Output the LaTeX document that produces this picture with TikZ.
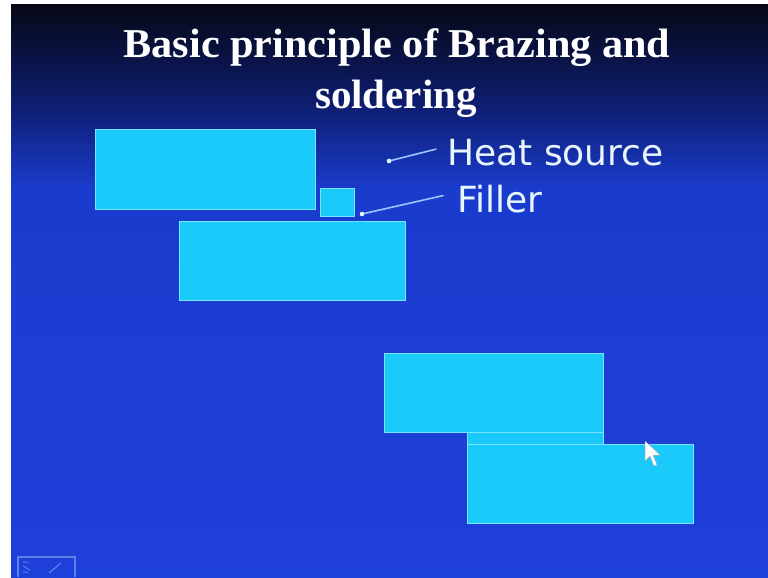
\documentclass[tikz,border=0pt]{standalone}
\usepackage{fontspec}
\setmainfont{Liberation Serif}
\newfontfamily\labfont{DejaVu Sans}
\usetikzlibrary{calc}
\definecolor{bgtop}{RGB}{6,8,22}
\definecolor{bgmid}{RGB}{14,30,115}
\definecolor{bgblue}{RGB}{26,60,205}
\definecolor{bgblue2}{RGB}{30,64,218}
\definecolor{cyanfill}{RGB}{26,202,250}
\definecolor{cyanedge}{RGB}{120,228,255}
\definecolor{labwhite}{RGB}{232,246,255}
\definecolor{ptrcol}{RGB}{150,200,255}
\definecolor{iconcol}{RGB}{90,130,235}
\pgfdeclareverticalshading{slidebg}{100bp}{color(0bp)=(bgblue2); color(25bp)=(bgblue2); color(59bp)=(bgblue); color(66bp)=(bgmid); color(75bp)=(bgtop); color(100bp)=(bgtop)}
\tikzset{
  block/.style={draw=cyanedge, fill=cyanfill, line width=1.4pt, inner sep=0pt, anchor=north west},
  titletext/.style={text=white, font=\bfseries\fontsize{41}{46}\selectfont, anchor=base, inner sep=0pt},
  labtext/.style={text=labwhite, font=\labfont\fontsize{36}{40}\selectfont, anchor=base west, inner sep=0pt},
  ptrline/.style={draw=ptrcol, line width=1.6pt, line cap=round},
  ptrdot/.style={fill=labwhite}
}
\begin{document}
\begin{tikzpicture}[x=1pt,y=-1pt]
\useasboundingbox (0,0) rectangle (768,578);
\fill[white] (0,0) rectangle (768,578);
\shade[shading=slidebg] (11,5) rectangle (768,578);

% title
\node[titletext] (t1) at (397,58) {\scalebox{1.03}[1]{Basic principle of Brazing and}};
\node[titletext] (t2) at (396,108) {soldering};

% upper sketch
\node[block, minimum width=220pt, minimum height=80pt] (r1) at (95,129) {};
\node[block, minimum width=34pt, minimum height=28pt] (f1) at (320,188) {};
\node[block, minimum width=226pt, minimum height=79pt] (r2) at (179,221) {};

% labels
\node[labtext] (hs) at (447,165) {Heat source};
\node[labtext] (fl) at (457,212) {Filler};
\coordinate (hsdot) at (389,161);
\coordinate (fldot) at (362,214);
\draw[ptrline] (hsdot) -- ([xshift=-11pt,yshift=3pt]hs.west);
\draw[ptrline] (fldot) -- ([xshift=-14pt,yshift=3pt]fl.west);
\fill[ptrdot] (hsdot) circle (2.3);
\fill[ptrdot] (fldot) circle (2.3);

% lower sketch (joined)
\node[block, minimum width=136pt, minimum height=12pt] (s1) at (467,432) {};
\node[block, minimum width=219pt, minimum height=79pt] (r3) at (384,353) {};
\node[block, minimum width=226pt, minimum height=79pt] (r4) at (467,444) {};

% mouse cursor
\filldraw[fill=white, draw=gray!60, line width=0.5pt, line join=round]
  (645,441) -- (645,461) -- (650,456) -- (654,466) -- (657,465) -- (653,455) -- (660,455) -- cycle;

% navigation icon
\draw[iconcol, line width=1.2pt] (18,577) -- (18,557) -- (75,557) -- (75,577);
\draw[iconcol, line width=1.2pt] (49,573) -- (61,563);
\draw[iconcol, line width=1pt] (23,562) -- (28,562) (23,566) -- (30,570) (23,572) -- (28,572);
\end{tikzpicture}
\end{document}
